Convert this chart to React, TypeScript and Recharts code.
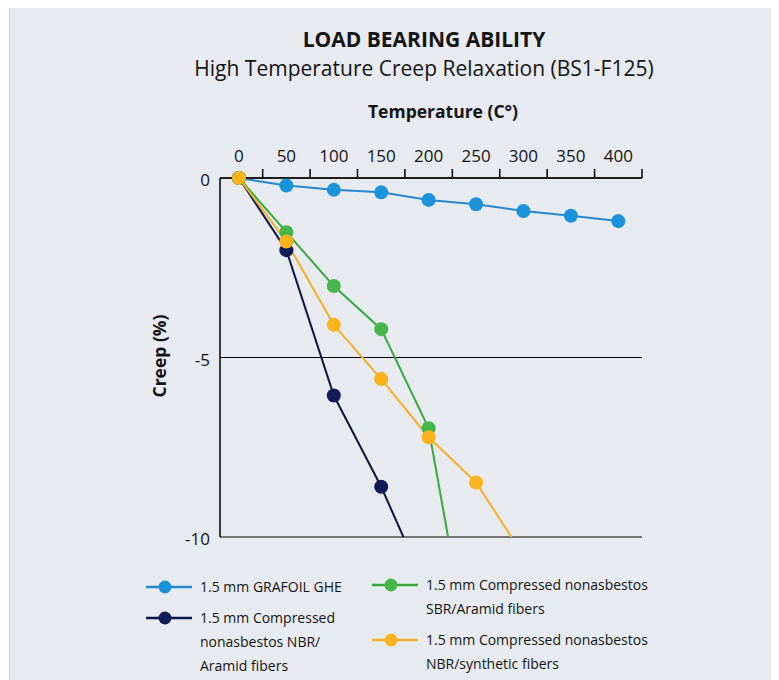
import { CartesianGrid, Line, LineChart, ReferenceLine, XAxis, YAxis } from "recharts";

// temperature (°C) vs creep (%)
const temperatures = [0, 50, 100, 150, 200, 250, 300, 350, 400];
const grafoilGhe = [0, -0.21, -0.33, -0.4, -0.61, -0.73, -0.92, -1.05, -1.2];
const nbrAramid = [0, -2.01, -6.06, -8.6, -11.59];
const sbrAramid = [0, -1.51, -3.01, -4.21, -6.97, -14.35];
const nbrSynthetic = [0, -1.77, -4.09, -5.6, -7.22, -8.48, -10.52];

const xTicks = [0, 50, 100, 150, 200, 250, 300, 350, 400];
const xTickMarks = [25, 75, 125, 175, 225, 275, 325, 375, 425];
const yTicks = [0, -5, -10];

const seriesNames = [
  "1.5 mm GRAFOIL GHE",
  "1.5 mm Compressed nonasbestos NBR/ Aramid fibers",
  "1.5 mm Compressed nonasbestos SBR/Aramid fibers",
  "1.5 mm Compressed nonasbestos NBR/synthetic fibers",
];

const data = temperatures.map((t, i) => ({
  temp: t,
  grafoil: grafoilGhe[i],
  nbrAramid: nbrAramid[i],
  sbrAramid: sbrAramid[i],
  nbrSynthetic: nbrSynthetic[i],
}));

const FONT = '"Open Sans", "Noto Sans", sans-serif';
const INK = "#141414";

const series = [
  { key: "grafoil", line: "#2687cf", dot: "#1b93db" },
  { key: "nbrAramid", line: "#0c1548", dot: "#101b58" },
  { key: "sbrAramid", line: "#36aa3b", dot: "#46b64a" },
  { key: "nbrSynthetic", line: "#f5b02a", dot: "#fbb41b" },
];

function Sample({ line, dot }: { line: string; dot: string }) {
  return (
    <svg width={46} height={16} style={{ flex: "none", marginTop: 4 }}>
      <line x1={0} y1={8} x2={46} y2={8} stroke={line} strokeWidth={2.5} />
      <circle cx={19} cy={8} r={6.5} fill={dot} />
    </svg>
  );
}

function LegendItem({ idx, left, top, lines }: { idx: number; left: number; top: number; lines: string[] }) {
  const s = series[idx];
  return (
    <div style={{ position: "absolute", left, top, display: "flex", gap: 8 }}>
      <Sample line={s.line} dot={s.dot} />
      <div style={{ fontSize: 14, lineHeight: "24px", color: INK }}>
        {lines.map((l) => (
          <div key={l} style={{ whiteSpace: "nowrap" }}>{l}</div>
        ))}
      </div>
    </div>
  );
}

export default function App() {
  return (
    <div
      style={{
        position: "relative",
        marginLeft: 1,
        width: 769,
        height: 672,
        borderLeft: "1px solid #c9cbce",
        background: "#e7eaee",
        fontFamily: FONT,
        color: INK,
        overflow: "hidden",
      }}
    >
      <div style={{ position: "absolute", left: 0, width: 828, top: 18.5, textAlign: "center", fontSize: 21, fontWeight: 700, lineHeight: "24px" }}>
        LOAD BEARING ABILITY
      </div>
      <div style={{ position: "absolute", left: 0, width: 828, top: 48, textAlign: "center", fontSize: 21, lineHeight: "24px" }}>
        High Temperature Creep Relaxation (BS1-F125)
      </div>
      <div style={{ position: "absolute", left: 0, width: 866, top: 92, textAlign: "center", fontSize: 17.5, fontWeight: 700, lineHeight: "22px" }}>
        Temperature (C°)
      </div>
      <div
        style={{
          position: "absolute",
          left: 149 - 60,
          top: 348 - 11,
          width: 120,
          height: 22,
          lineHeight: "22px",
          textAlign: "center",
          fontSize: 17.5,
          fontWeight: 700,
          transform: "rotate(-90deg)",
        }}
      >
        Creep (%)
      </div>

      <div style={{ position: "absolute", left: 121, top: 132 }}>
        <LineChart width={530} height={410} data={data} margin={{ top: 0, right: 19, left: 0, bottom: 13 }}>
          <CartesianGrid vertical={false} stroke="#000" strokeWidth={1.2} />
          <XAxis
            dataKey="temp"
            type="number"
            orientation="top"
            domain={[-20, 425]}
            ticks={xTicks}
            interval={0}
            height={38}
            axisLine={{ stroke: "#000", strokeWidth: 1.5 }}
            tickLine={false}
            tickSize={0}
            tickMargin={16}
            tick={{ fontSize: 17, fill: INK, fontFamily: FONT }}
          />
          <YAxis
            type="number"
            domain={[-10, 0]}
            ticks={yTicks}
            allowDataOverflow
            width={89}
            axisLine={{ stroke: "#000", strokeWidth: 1.5 }}
            tickLine={false}
            tickSize={0}
            tickMargin={10}
            tick={{ fontSize: 17, fill: INK, fontFamily: FONT, dy: 2 }}
          />
          {xTickMarks.map((v) => (
            <ReferenceLine
              key={v}
              segment={[{ x: v, y: 0 }, { x: v, y: 0.25 }]}
              stroke="#000"
              strokeWidth={1.5}
              ifOverflow="visible"
            />
          ))}
          {series.map((s, i) => (
            <Line
              key={s.key}
              name={seriesNames[i]}
              dataKey={s.key}
              stroke={s.line}
              strokeWidth={2}
              dot={{ r: 7, fill: s.dot, stroke: "none", clipDot: false }}
              activeDot={false}
              isAnimationActive={false}
            />
          ))}
        </LineChart>
      </div>

      <LegendItem idx={0} left={136} top={567} lines={["1.5 mm GRAFOIL GHE"]} />
      <LegendItem idx={1} left={136} top={598} lines={["1.5 mm Compressed", "nonasbestos NBR/", "Aramid fibers"]} />
      <LegendItem idx={2} left={362} top={565} lines={["1.5 mm Compressed nonasbestos", "SBR/Aramid fibers"]} />
      <LegendItem idx={3} left={362} top={620} lines={["1.5 mm Compressed nonasbestos", "NBR/synthetic fibers"]} />
    </div>
  );
}
